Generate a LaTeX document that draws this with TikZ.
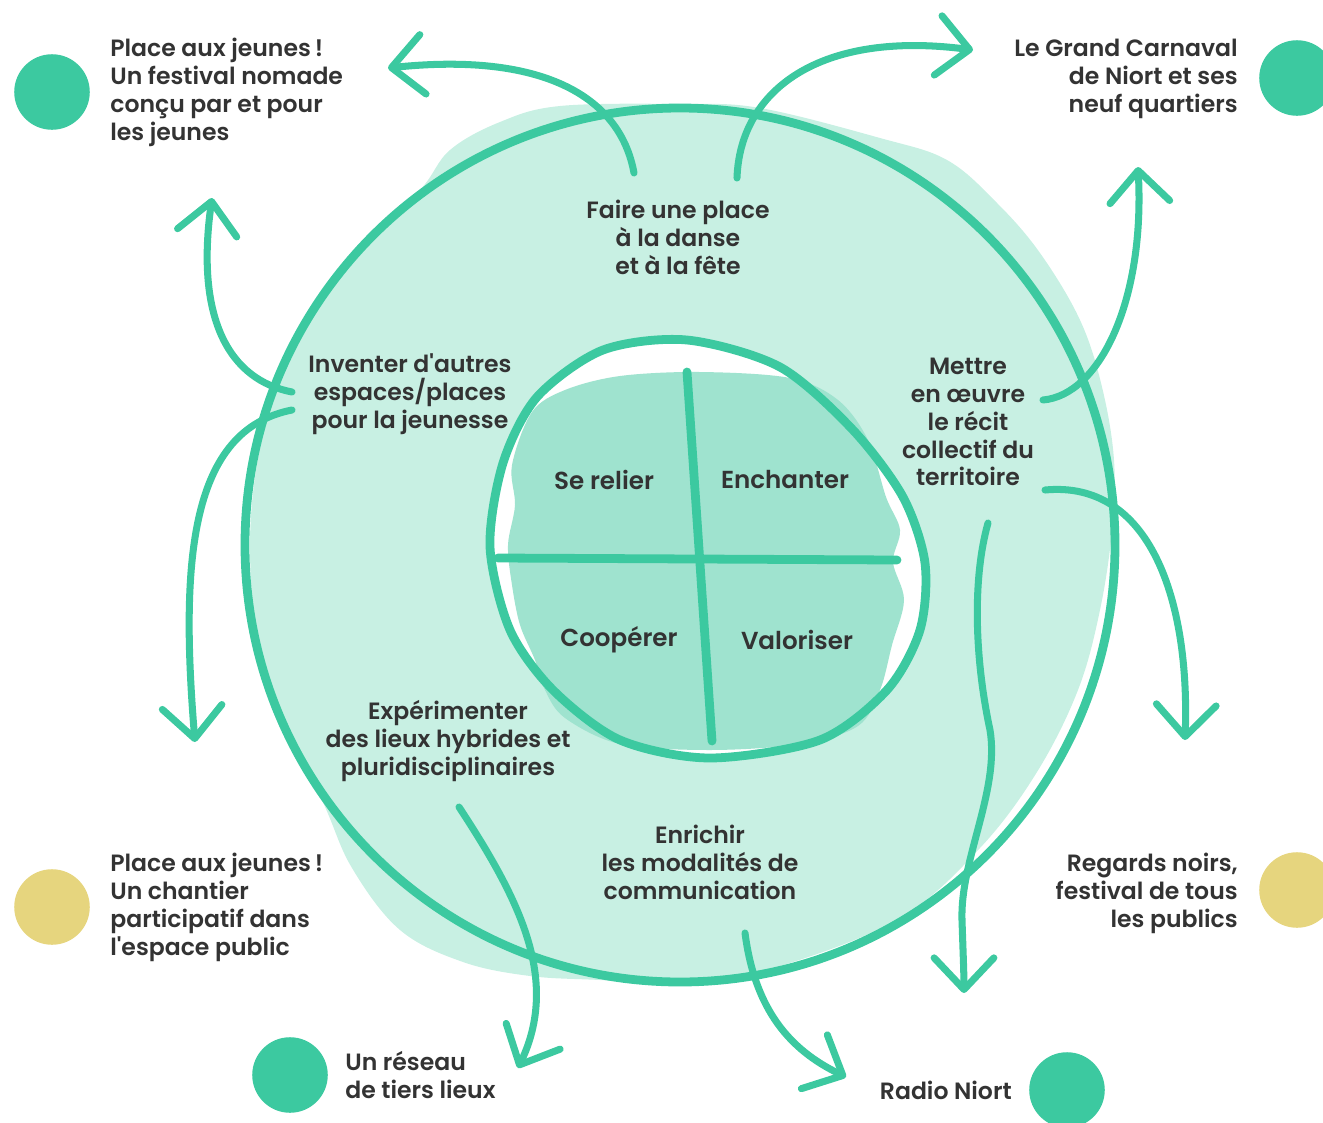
\documentclass[tikz,border=0pt]{standalone}
\usepackage{fontspec}
\setmainfont{Poppins SemiBold}
\usetikzlibrary{arrows.meta}

\definecolor{ringgreen}{HTML}{3CC9A0}
\definecolor{palemint}{HTML}{C8F0E3}
\definecolor{midmint}{HTML}{9FE3CF}
\definecolor{sand}{HTML}{E6D57E}
\definecolor{inktext}{HTML}{333333}

\tikzset{
  lbl/.style={text=inktext, font=\fontsize{13.4}{15.9}\selectfont, inner sep=0pt},
  quad/.style={text=inktext, font=\fontsize{14}{16}\selectfont, inner sep=0pt},
  arr/.style={ringgreen, line width=4pt, line cap=round,
    -{Straight Barb[length=18pt, width=34pt, round]}},
  dot/.style={circle, fill=#1, minimum size=43pt, inner sep=0pt}
}

\begin{document}
\begin{tikzpicture}[x=0.02cm, y=-0.02cm]
    \useasboundingbox (0,0) rectangle (1323,1123);
    \clip (0,0) rectangle (1323,1123);

    % pale blob and outer ring
    \fill[palemint] plot[smooth cycle, tension=0.6] coordinates {(680,104) (760,108) (880,138) (947,160) (997,203) (1040,253) (1080,320) (1102,387) (1114,460) (1112,530) (1100,610) (1078,690) (1037,772) (980,848) (900,918) (780,966) (680,984) (600,980) (530,976) (463,962) (400,930) (352,868) (322,800) (266,680) (250,545) (266,420) (305,322) (362,245) (420,190) (450,150) (500,122) (560,106)};
    \draw[ringgreen, line width=5pt] (680,545) ellipse [x radius=435, y radius=437];

    % inner loop, cloud and cross
    \fill[white] plot[smooth cycle] coordinates {(687,340) (780,367) (853,430) (903,497) (925,563) (920,630) (887,690) (820,740) (710,758) (620,740) (553,690) (510,630) (490,547) (503,463) (537,397) (603,350)};
    \fill[midmint] plot[smooth cycle, tension=0.55] coordinates {(532,412) (565,390) (620,376) (700,372) (790,378) (838,400) (868,440) (886,497) (900,530) (893,562) (904,600) (892,645) (880,690) (858,726) (800,744) (710,750) (620,744) (565,718) (545,690) (535,660) (520,625) (512,585) (508,545) (515,505) (512,465)};
    \draw[ringgreen, line width=5pt] plot[smooth cycle] coordinates {(687,340) (780,367) (853,430) (903,497) (925,563) (920,630) (887,690) (820,740) (710,758) (620,740) (553,690) (510,630) (490,547) (503,463) (537,397) (603,350)};
    \draw[ringgreen, line width=5pt, line cap=round] (687,372) -- (712,741);
    \draw[ringgreen, line width=5pt, line cap=round] (498,558) -- (897,560);

    \node[quad] (relier) at (604,480) {Se relier};
    \node[quad] (enchanter) at (785,480) {Enchanter};
    \node[quad] (cooperer) at (619,640) {Coopérer};
    \node[quad] (valoriser) at (797,640) {Valoriser};

    % texts on the ring
    \node[lbl, align=center] (faire) at (678,237) {Faire une place\\à la danse\\et à la fête};
    \node[lbl, align=center] (inventer) at (410,394) {Inventer d\textquotesingle autres\\espaces/places\\pour la jeunesse};
    \node[lbl, align=center] (mettre) at (968,422) {Mettre\\en œuvre\\le récit\\collectif du\\territoire};
    \node[lbl, align=center] (experimenter) at (448,741) {Expérimenter\\des lieux hybrides et\\pluridisciplinaires};
    \node[lbl, align=center] (enrichir) at (700,862) {Enrichir\\les modalités de\\communication};

    % actions around
    \node[dot=ringgreen] (dotJeunes) at (52,92) {};
    \node[lbl, align=left, anchor=west] (jeunes) at (110,92) {Place aux jeunes\,!\\Un festival nomade\\conçu par et pour\\les jeunes};
    \node[dot=ringgreen] (dotCarnaval) at (1297,78) {};
    \node[lbl, align=right, anchor=east] (carnaval) at (1238,79) {Le Grand Carnaval\\de Niort et ses\\neuf quartiers};
    \node[dot=sand] (dotChantier) at (52,907) {};
    \node[lbl, align=left, anchor=west] (chantier) at (110,907) {Place aux jeunes\,!\\Un chantier\\participatif dans\\l\textquotesingle espace public};
    \node[dot=sand] (dotRegards) at (1297,890) {};
    \node[lbl, align=right, anchor=east] (regards) at (1238,893) {Regards noirs,\\festival de tous\\les publics};
    \node[dot=ringgreen] (dotReseau) at (290,1075) {};
    \node[lbl, align=left, anchor=west] (reseau) at (345,1075) {Un réseau\\de tiers lieux};
    \node[dot=ringgreen] (dotRadio) at (1067,1090) {};
    \node[lbl, anchor=east] (radio) at (1012,1090) {Radio Niort};

    % arrow ends
    \coordinate (fromFaireL) at (634,173);
    \coordinate (fromFaireR) at (737,178);
    \coordinate (fromInventerU) at (292,392);
    \coordinate (fromInventerD) at (292,410);
    \coordinate (fromMettreU) at (1043,400);
    \coordinate (fromMettreD) at (1045,490);
    \coordinate (fromRecit) at (988,523);
    \coordinate (fromExperimenter) at (459,807);
    \coordinate (fromEnrichir) at (745,933);
    \coordinate (toJeunes) at (388,68);
    \coordinate (toCarnaval) at (973,50);
    \coordinate (toJeunesB) at (212,198);
    \coordinate (toChantier) at (195,742);
    \coordinate (toCarnavalB) at (1138,167);
    \coordinate (toRegards) at (1185,740);
    \coordinate (toRadioB) at (964,993);
    \coordinate (toReseau) at (518,1068);
    \coordinate (toRadio) at (846,1077);

    \draw[arr] (fromFaireL) .. controls (620,95) and (540,52) .. (toJeunes);
    \draw[arr] (fromFaireR) .. controls (740,90) and (820,30) .. (toCarnaval);
    \draw[arr] (fromInventerU) .. controls (230,380) and (195,320) .. (toJeunesB);
    \draw[arr] (fromInventerD) .. controls (190,430) and (180,560) .. (toChantier);
    \draw[arr] (fromMettreU) .. controls (1100,395) and (1145,300) .. (toCarnavalB);
    \draw[arr] (fromMettreD) .. controls (1150,480) and (1190,600) .. (toRegards);
    \draw[arr] (fromRecit) .. controls (972,580) and (975,660) .. (990,730) .. controls (1000,790) and (960,860) .. (962,920) .. controls (963,950) and (964,975) .. (toRadioB);
    \draw[arr] (fromExperimenter) .. controls (520,900) and (560,980) .. (toReseau);
    \draw[arr] (fromEnrichir) .. controls (755,1010) and (790,1050) .. (toRadio);
\end{tikzpicture}
\end{document}
